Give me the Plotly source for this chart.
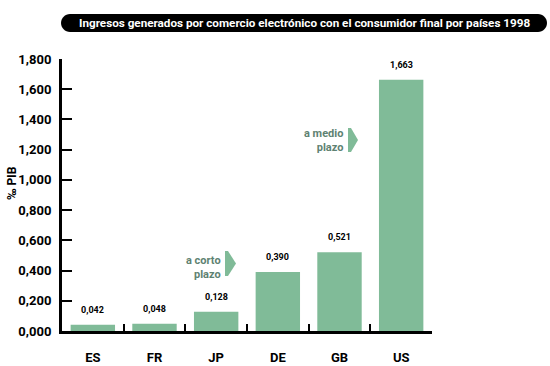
import plotly.graph_objects as go

categories = ["ES", "FR", "JP", "DE", "GB", "US"]
values = [0.042, 0.048, 0.128, 0.390, 0.521, 1.663]
tick_values = [0, 0.2, 0.4, 0.6, 0.8, 1.0, 1.2, 1.4, 1.6, 1.8]
title_text = "Ingresos generados por comercio electrónico con el consumidor final por países 1998"
y_title = "‰ PIB"

W, H = 550, 366
L, R, T, B = 62, 118, 59, 35
PW, PH = W - L - R, H - T - B


def px(x):
    return (x - L) / PW


def py(y):
    return (H - B - y) / PH


BAR = "#80bb98"
ANN = "#5e8272"
FONT = "Roboto, Arial, sans-serif"

fig = go.Figure()
fig.add_trace(go.Bar(x=categories, y=values, marker=dict(color=BAR, line=dict(width=0)),
                     hoverinfo="skip"))

# value labels
for c, v in zip(categories, values):
    fig.add_annotation(x=c, y=v, text=f"<b>{v:.3f}</b>".replace(".", ","), showarrow=False,
                       yanchor="bottom", yshift=8, font=dict(family=FONT, size=9, color="black"))


def rounded_pill(x0, x1, y0, y1):
    r = (y1 - y0) / 2
    k = 0.5523 * r

    def P(x, y):
        return f"{px(x):.5f},{py(y):.5f}"
    d = f"M {P(x0 + r, y0)} L {P(x1 - r, y0)} "
    d += f"C {P(x1 - r + k, y0)} {P(x1, y0 + r - k)} {P(x1, y0 + r)} "
    d += f"C {P(x1, y0 + r + k)} {P(x1 - r + k, y1)} {P(x1 - r, y1)} "
    d += f"L {P(x0 + r, y1)} "
    d += f"C {P(x0 + r - k, y1)} {P(x0, y0 + r + k)} {P(x0, y0 + r)} "
    d += f"C {P(x0, y0 + r - k)} {P(x0 + r - k, y0)} {P(x0 + r, y0)} Z"
    return d


fig.add_shape(type="path", xref="paper", yref="paper", path=rounded_pill(61, 547, 14, 32),
              fillcolor="black", line=dict(width=0), layer="above")
fig.add_annotation(xref="paper", yref="paper", x=px(304.5), y=py(23), text=f"<b>{title_text}</b>",
                   showarrow=False, xanchor="center", yanchor="middle",
                   font=dict(family=FONT, size=11.7, color="white"))


def arrow(x0, x1, y0, y1):
    xm = x0 + 3
    ym = (y0 + y1) / 2
    pts = [(x0, y0), (xm, y0), (x1, ym), (xm, y1), (x0, y1)]
    d = "M " + " L ".join(f"{px(a):.5f},{py(b):.5f}" for a, b in pts) + " Z"
    return d


fig.add_shape(type="path", xref="paper", yref="paper", path=arrow(225, 236, 251, 276),
              fillcolor=BAR, line=dict(width=0))
fig.add_shape(type="path", xref="paper", yref="paper", path=arrow(348, 358, 128, 152),
              fillcolor=BAR, line=dict(width=0))
fig.add_annotation(xref="paper", yref="paper", x=px(223), y=py(267), text="<b>a corto<br>plazo</b>",
                   showarrow=False, xanchor="right", yanchor="middle", align="right",
                   font=dict(family=FONT, size=11, color=ANN))
fig.add_annotation(xref="paper", yref="paper", x=px(345), y=py(140), text="<b>a medio<br>plazo</b>",
                   showarrow=False, xanchor="right", yanchor="middle", align="right",
                   font=dict(family=FONT, size=11, color=ANN))

fig.add_annotation(xref="paper", yref="paper", x=px(12), y=py(183), text=f"<b>{y_title}</b>",
                   showarrow=False, textangle=-90, xanchor="center", yanchor="middle",
                   font=dict(family=FONT, size=12, color="black"))

fig.update_layout(
    width=W, height=H, margin=dict(l=L, r=R, t=T, b=B, pad=0, autoexpand=False),
    paper_bgcolor="white", plot_bgcolor="white", showlegend=False,
    separators=",.", bargap=0.28,
    xaxis=dict(showline=True, linecolor="black", linewidth=3, ticks="inside", tickson="boundaries",
               ticklen=7, tickwidth=2, tickcolor="black", showgrid=False, zeroline=False,
               ticklabelstandoff=12, automargin=False,
               tickfont=dict(family=FONT, size=13, color="black", weight="bold")),
    yaxis=dict(range=[0, 1.8], tickvals=tick_values, tickformat=".3f", showline=True,
               linecolor="black", linewidth=3, ticks="inside", ticklen=10, tickwidth=2,
               tickcolor="black", showgrid=False, zeroline=False, ticklabelstandoff=5,
               automargin=False,
               tickfont=dict(family=FONT, size=13, color="black", weight="bold")),
)

fig.write_html("out.html", config={"displayModeBar": False},
               post_script="document.body.style.margin='0';document.body.style.overflow='hidden';")
